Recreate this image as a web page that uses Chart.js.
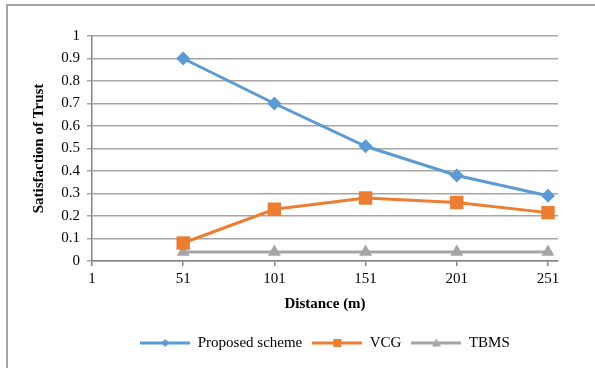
<!DOCTYPE html>
<html>
<head>
<meta charset="utf-8">
<script src="https://cdn.jsdelivr.net/npm/chart.js@4/dist/chart.umd.min.js"></script>
<style>
  html, body { margin: 0; padding: 0; background: #fff; overflow: hidden; }
  #wrap { position: relative; width: 595px; height: 368px; }
  #marco { position: absolute; left: 6px; top: 4px; width: 800px; height: 600px; border: 2px solid #a6a6a6; box-sizing: border-box; }
  canvas { position: absolute; left: 0; top: 0; }
</style>
</head>
<body>
<div id="wrap">
  <div id="marco"></div>
  <canvas id="linea" width="595" height="368"></canvas>
</div>
<script>
const distancias = [51, 101, 151, 201, 251];
const ticksX = [1, 51, 101, 151, 201, 251];
const propuesto = [0.90, 0.70, 0.51, 0.38, 0.29];
const vcg = [0.08, 0.23, 0.28, 0.26, 0.215];
const tbms = [0.04, 0.04, 0.04, 0.04, 0.04];
const nombres = ["Proposed scheme", "VCG", "TBMS"];
const colores = ["#5B9BD5", "#ED7D31", "#A5A5A5"];

const fuente = "'Liberation Serif', 'Times New Roman', serif";

function puntos(valores) {
  return distancias.map((d, i) => ({ x: d, y: valores[i] }));
}

// icono de leyenda: linea con marcador en el centro
function icono(color, forma) {
  const c = document.createElement("canvas");
  c.width = 50;
  c.height = 12;
  const g = c.getContext("2d");
  g.strokeStyle = color;
  g.lineWidth = 3;
  g.beginPath();
  g.moveTo(0, 6);
  g.lineTo(50, 6);
  g.stroke();
  g.fillStyle = color;
  g.beginPath();
  if (forma === "rombo") {
    g.moveTo(25, 2); g.lineTo(29, 6); g.lineTo(25, 10); g.lineTo(21, 6);
  } else if (forma === "cuadro") {
    g.rect(21, 2, 8, 8);
  } else {
    g.moveTo(25, 1.5); g.lineTo(29.5, 9.5); g.lineTo(20.5, 9.5);
  }
  g.closePath();
  g.fill();
  return c;
}
const iconos = [icono(colores[0], "rombo"), icono(colores[1], "cuadro"), icono(colores[2], "triangulo")];

const ctx = document.getElementById("linea");

const grafico = new Chart(ctx, {
  type: "line",
  data: {
    datasets: [
      {
        label: nombres[0],
        data: puntos(propuesto),
        borderColor: colores[0],
        backgroundColor: colores[0],
        borderWidth: 3,
        pointStyle: "rectRot",
        pointRadius: 7,
        pointBorderWidth: 0,
      },
      {
        label: nombres[1],
        data: puntos(vcg),
        borderColor: colores[1],
        backgroundColor: colores[1],
        borderWidth: 3,
        pointStyle: "rect",
        pointRadius: 9.5,
        pointBorderWidth: 0,
      },
      {
        label: nombres[2],
        data: puntos(tbms),
        borderColor: colores[2],
        backgroundColor: colores[2],
        borderWidth: 3,
        pointStyle: "triangle",
        pointRadius: 7.5,
        pointBorderWidth: 0,
      },
    ],
  },
  options: {
    responsive: false,
    animation: false,
    layout: { padding: { left: 30, right: 37, top: 36, bottom: 7.5 } },
    scales: {
      x: {
        type: "linear",
        min: 1,
        max: 256.5,
        afterBuildTicks: (scale) => {
          scale.ticks = ticksX.map((v) => ({ value: v }));
        },
        afterFit: (scale) => { scale.height = 64.5; },
        ticks: {
          color: "#000",
          font: { family: fuente, size: 15 },
          padding: 4,
          maxRotation: 0,
          autoSkip: false,
        },
        grid: { drawOnChartArea: false, tickLength: 5, color: "#868686", lineWidth: 1.5 },
        border: { color: "#868686", width: 1.5 },
        title: {
          display: true,
          text: "Distance (m)",
          color: "#000",
          font: { family: fuente, size: 15, weight: "bold" },
          padding: { top: 0, bottom: 12.5 },
        },
      },
      y: {
        min: 0,
        max: 1,
        afterFit: (scale) => { scale.width = 62; },
        ticks: {
          stepSize: 0.1,
          color: "#000",
          font: { family: fuente, size: 15 },
          padding: 7,
          callback: (v) => String(Math.round(v * 10) / 10),
        },
        grid: { color: "#a6a6a6", lineWidth: 1.5, tickLength: 5 },
        border: { color: "#868686", width: 1.5 },
        title: {
          display: true,
          text: "Satisfaction of Trust",
          color: "#000",
          font: { family: fuente, size: 15, weight: "bold" },
          padding: 0,
        },
      },
    },
    plugins: {
      legend: {
        position: "bottom",
        fullSize: false,
        labels: {
          usePointStyle: true,
          pointStyleWidth: 50,
          color: "#000",
          font: { family: fuente, size: 15 },
          padding: 10,
          generateLabels: (chart) => {
            const base = Chart.defaults.plugins.legend.labels.generateLabels(chart);
            return base.map((item, i) => ({ ...item, pointStyle: iconos[i] }));
          },
        },
      },
      tooltip: { enabled: false },
    },
  },
});
</script>
</body>
</html>
